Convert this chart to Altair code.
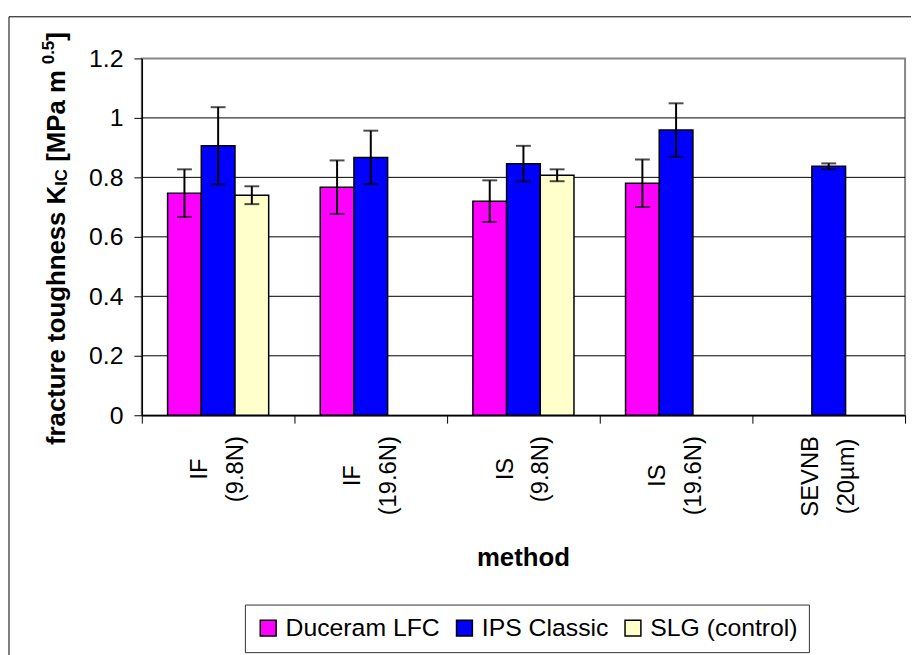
import altair as alt
import pandas as pd

# ---------------- data ----------------
methods = ["IF (9.8N)", "IF (19.6N)", "IS (9.8N)", "IS (19.6N)", "SEVNB (20µm)"]
label_line1 = ["IF", "IF", "IS", "IS", "SEVNB"]
label_line2 = ["(9.8N)", "(19.6N)", "(9.8N)", "(19.6N)", "(20µm)"]
materials = ["Duceram LFC", "IPS Classic", "SLG (control)"]
colors = ["#FF00FF", "#0000FF", "#FFFFCC"]

duceram_mean = [0.747, 0.767, 0.720, 0.780, None]
duceram_err = [0.080, 0.090, 0.070, 0.080, None]
ips_mean = [0.906, 0.867, 0.846, 0.959, 0.837]
ips_err = [0.130, 0.090, 0.060, 0.090, 0.010]
slg_mean = [0.740, None, 0.807, None, None]
slg_err = [0.030, None, 0.020, None, None]

y_ticks = [0, 0.2, 0.4, 0.6, 0.8, 1.0, 1.2]
grid_values = [0.2, 0.4, 0.6, 0.8, 1.0]

FONT = "Liberation Sans"

# ---------------- tables ----------------
rows = []
for mat, means, errs in zip(materials, [duceram_mean, ips_mean, slg_mean],
                            [duceram_err, ips_err, slg_err]):
    for m, v, e in zip(methods, means, errs):
        if v is None:
            continue
        rows.append({"method": m, "material": mat, "mean": v,
                     "lo": v - e, "hi": v + e})
df = pd.DataFrame(rows)

# text-width helper (Arial metrics, per 1000 em) for label layout
REG = {"I": 278, "F": 611, "S": 667, "E": 667, "V": 667, "N": 722, "B": 667,
       "(": 333, ")": 333, ".": 278, "µ": 576, "m": 833}
BOLD = {" ": 278, "f": 333, "r": 389, "a": 556, "c": 556, "t": 333, "u": 611,
        "e": 556, "o": 611, "g": 611, "h": 611, "n": 611, "s": 556, "K": 722,
        "I": 278, "C": 722, "[": 333, "M": 833, "P": 667, "m": 889, "]": 333,
        "0": 556, ".": 278, "5": 556}


def tw(s, size, table):
    return sum(table.get(ch, 556) for ch in s) / 1000.0 * size


LABEL_SIZE = 24
label_top = 381  # pixel offset below plot top where the label blocks start
lab_rows = []
for m, l1, l2 in zip(methods, label_line1, label_line2):
    w = max(tw(l1, LABEL_SIZE, REG), tw(l2, LABEL_SIZE, REG))
    lab_rows.append({"method": m, "l1": l1, "l2": l2, "yc": label_top + w / 2})
lab_df = pd.DataFrame(lab_rows)

grid_df = pd.DataFrame({"mean": grid_values})
one = pd.DataFrame({"a": [0]})

# ---------------- scales / encodings ----------------
x_scale = alt.Scale(domain=methods, paddingInner=0, paddingOuter=0)
xoff_scale = alt.Scale(domain=materials, paddingInner=0, paddingOuter=0.765)
y_scale = alt.Scale(domain=[0, 1.2], nice=False, zero=True)

x_axis = alt.Axis(labels=False, title=None, tickBand="extent", tickSize=8,
                  tickColor="black", tickWidth=1, domainColor="black",
                  domainWidth=1.5, grid=False)
y_axis = alt.Axis(values=y_ticks, format="~g", title=None, grid=False,
                  tickSize=8, tickColor="black", domainColor="black",
                  domainWidth=1.5, labelFontSize=25, labelFont=FONT,
                  labelColor="black", labelPadding=11)

X = alt.X("method:N", sort=methods, scale=x_scale, axis=x_axis)
XO = alt.XOffset("material:N", sort=materials, scale=xoff_scale)

grid = alt.Chart(grid_df).mark_rule(color="black", strokeWidth=1).encode(
    y=alt.Y("mean:Q", scale=y_scale, axis=y_axis)
)

bars = alt.Chart(df).mark_bar(stroke="black", strokeWidth=1.5).encode(
    x=X,
    xOffset=XO,
    y=alt.Y("mean:Q", scale=y_scale, axis=y_axis),
    color=alt.Color(
        "material:N",
        scale=alt.Scale(domain=materials, range=colors),
        legend=alt.Legend(
            title=None, orient="none", legendX=104, legendY=551,
            direction="horizontal", symbolType="square", symbolSize=256,
            symbolStrokeColor="black", symbolStrokeWidth=1.5,
            labelFontSize=25, labelFont=FONT, labelColor="black",
            labelOffset=5, columnPadding=12, padding=11,
            strokeColor="#333333", fillColor="white", labelLimit=400,
        ),
    ),
)

err_rule = alt.Chart(df).mark_rule(color="black", strokeWidth=2).encode(
    x=X, xOffset=XO,
    y=alt.Y("lo:Q", scale=y_scale, axis=y_axis), y2="hi:Q",
)
cap_lo = alt.Chart(df).mark_tick(color="black", thickness=2, size=15,
                                 orient="horizontal").encode(
    x=X, xOffset=XO, y=alt.Y("lo:Q", scale=y_scale, axis=y_axis))
cap_hi = alt.Chart(df).mark_tick(color="black", thickness=2, size=15,
                                 orient="horizontal").encode(
    x=X, xOffset=XO, y=alt.Y("hi:Q", scale=y_scale, axis=y_axis))

# x category labels (two centred lines per category, rotated)
lab1 = alt.Chart(lab_df).mark_text(angle=270, align="center", baseline="middle",
                                   dy=-18, fontSize=LABEL_SIZE, font=FONT,
                                   color="black").encode(
    x=X, y=alt.Y("yc:Q", scale=None, axis=None), text="l1:N")
lab2 = alt.Chart(lab_df).mark_text(angle=270, align="center", baseline="middle",
                                   dy=18, fontSize=LABEL_SIZE, font=FONT,
                                   color="black").encode(
    x=X, y=alt.Y("yc:Q", scale=None, axis=None), text="l2:N")

# x title
x_title = alt.Chart(one).mark_text(text="method", fontSize=26, fontWeight="bold",
                                   font=FONT, color="black", align="center",
                                   baseline="alphabetic").encode(
    x=alt.value(385), y=alt.value(512))

# y title built from pieces (subscript / superscript)
TS, SS = 26, 17
title_x = -77
start_y = 390
pieces = [("fracture toughness K", TS, 0, 0), ("IC", SS, 2, 0),
          ("[MPa m", TS, 0, tw(" ", TS, BOLD)), ("0.5", SS, -12, 6),
          ("]", TS, 0, 0)]
title_layers = []
cur = start_y
for txt, size, shift, gap in pieces:
    cur -= gap
    title_layers.append(
        alt.Chart(one).mark_text(text=txt, fontSize=size, fontWeight="bold",
                                 font=FONT, color="black", angle=270,
                                 align="left", baseline="alphabetic").encode(
            x=alt.value(title_x + shift), y=alt.value(cur))
    )
    cur -= tw(txt, size, BOLD)

# outer chart border
border = alt.Chart(one).mark_rect(fillOpacity=0, stroke="black",
                                  strokeWidth=1).encode(
    x=alt.value(-134), x2=alt.value(781), y=alt.value(-42), y2=alt.value(604))

chart = alt.layer(
    border, grid, bars, err_rule, cap_lo, cap_hi, lab1, lab2, x_title,
    *title_layers
).properties(
    width=770, height=360,
    autosize=alt.AutoSizeParams(type="none"),
    padding={"left": 135, "top": 48, "right": 6, "bottom": 239},
    background="white",
).configure_view(
    stroke="#888888", strokeWidth=2
).configure_legend(
    strokeWidth=1
)

chart.save("out.html", embed_options={"renderer": "svg", "actions": False})
